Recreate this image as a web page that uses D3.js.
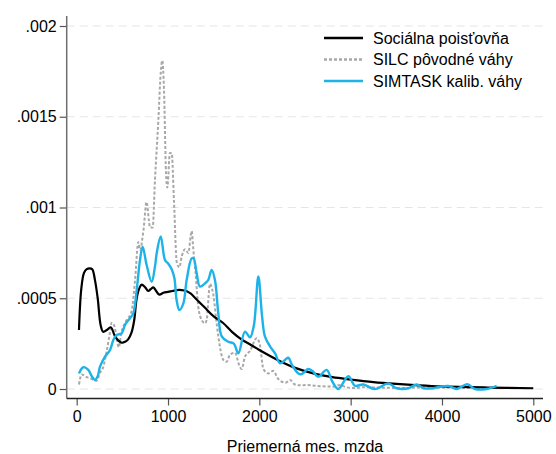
<!DOCTYPE html>
<html><head><meta charset="utf-8">
<script src="https://cdn.jsdelivr.net/npm/d3@7"></script>
<style>body{margin:0;background:#fff}svg{display:block}</style>
</head><body>
<script>
// ---- data (y in units of 1e-4 density) ----
const xTicks = [0, 1000, 2000, 3000, 4000, 5000];
const yTicks = [0, 0.0005, 0.001, 0.0015, 0.002];
const yTickLabels = ["0", ".0005", ".001", ".0015", ".002"];
const seriesNames = ["Sociálna poisťovňa", "SILC pôvodné váhy", "SIMTASK kalib. váhy"];

const spX = [25,50,80,110,140,170,200,230,263,290,330,372,420,460,493,530,565,600,630,657,690,712,750,784,810,839,870,905,950,1000,1050,1100,1150,1200,1250,1300,1400,1500,1600,1700,1800,1900,2000,2200,2400,2600,2800,3000,3250,3500,3750,4000,4500,5000];
const spY = [3.25,5.5,6.4,6.6,6.65,6.6,6.0,5.0,3.5,3.15,3.25,3.4,2.9,2.65,2.55,2.6,2.75,3.1,3.8,5.0,5.6,5.75,5.6,5.4,5.5,5.6,5.4,5.2,5.3,5.35,5.4,5.45,5.45,5.4,5.25,5.0,4.5,4.0,3.65,3.15,2.75,2.45,2.15,1.6,1.15,0.85,0.65,0.52,0.38,0.28,0.2,0.14,0.08,0.04];

const silcX = [25,55,80,110,146,180,219,255,290,329,360,383,410,438,460,493,511,547,602,639,675,693,730,766,790,803,832,857,894,920,937,956,978,992,1021,1040,1065,1095,1124,1150,1186,1222,1259,1277,1300,1332,1369,1405,1423,1460,1478,1496,1533,1551,1606,1642,1679,1733,1780,1806,1843,1898,1971,2007,2044,2098,2153,2200,2245,2290,2336,2390,2450,2518,2628,2700,2810,2883,2950,3029,3150,3300,3450,3600,3750,3900,4050,4200,4350,4500,4600];
const silcY = [0.25,0.8,0.75,0.65,0.6,0.5,0.45,0.9,1.2,2.1,3.0,3.65,3.5,2.8,2.3,3.2,3.45,3.8,4.3,6.0,8.1,7.66,8.7,10.3,9.3,8.9,8.9,11.5,14.8,17.4,18.1,16.5,11.9,11.1,13.0,13.0,10.4,7.0,6.7,7.3,7.7,7.5,8.7,7.7,6.5,4.5,3.8,3.62,3.8,5.8,5.6,5.2,3.6,2.9,1.6,1.5,1.9,2.0,1.3,1.1,1.78,2.1,2.8,2.4,1.1,0.86,1.0,0.6,0.4,0.35,0.5,0.25,0.2,0.22,0.17,0.15,0.13,0.22,0.1,0.05,0.1,0.08,0.06,0.05,0.08,0.05,0.08,0.05,0.06,0.05,0.05];

const simX = [25,72,127,165,200,230,255,310,365,401,438,493,529,584,620,657,693,722,766,821,857,876,920,967,1003,1040,1070,1094,1124,1168,1204,1259,1280,1314,1350,1405,1440,1478,1514,1550,1588,1660,1720,1770,1843,1898,1940,1989,2030,2062,2117,2171,2226,2281,2317,2360,2427,2463,2536,2580,2646,2737,2800,2865,2974,3047,3138,3266,3412,3504,3631,3723,3800,3905,3978,4069,4161,4277,4361,4489,4599];
const simY = [0.86,1.2,1.05,0.7,0.5,0.7,1.23,1.78,2.15,2.7,2.98,3.07,3.53,3.9,4.17,5.45,7.1,7.84,6.83,5.91,6.74,7.48,8.4,7.1,6.9,6.6,6.1,4.9,4.35,4.72,6.0,7.2,7.2,6.37,5.64,5.82,6.0,6.56,6.0,4.2,2.9,2.6,2.5,1.97,3.16,2.85,3.5,6.2,4.0,2.88,2.35,1.97,1.42,1.6,1.72,1.3,0.86,0.82,1.1,1.0,0.68,1.05,0.4,0.0,0.7,0.18,0.25,0.0,0.3,0.04,0.04,0.25,0.04,0.04,0.13,0.17,0.0,0.26,0.0,0.0,0.17];

const W = 556, H = 454;
const FONT = "'Liberation Sans', Arial, Helvetica, sans-serif";
const svg = d3.select("body").append("svg").attr("width", W).attr("height", H)
  .style("font-family", FONT);

const x = d3.scaleLinear().domain([0, 5000]).range([76.7, 533.3]);
const y = d3.scaleLinear().domain([0, 0.002]).range([389, 26]);
const axisX = 66.7, axisY = 398.5, plotRight = 543, plotTop = 16;

// gridlines
svg.append("g").selectAll("line").data(yTicks).join("line")
  .attr("x1", axisX).attr("x2", plotRight)
  .attr("y1", d => y(d)).attr("y2", d => y(d))
  .attr("stroke", "#e6e6e6").attr("stroke-width", 1.2).attr("stroke-dasharray", "8,5");

// axes
const yAxis = d3.axisLeft(y).tickValues(yTicks).tickFormat((d, i) => yTickLabels[i]).tickSize(7).tickPadding(3);
const gy = svg.append("g").attr("transform", `translate(${axisX},0)`).call(yAxis);
gy.select(".domain").remove();
svg.append("line").attr("x1", axisX).attr("x2", axisX).attr("y1", plotTop).attr("y2", axisY)
  .attr("stroke", "#6e6e6e").attr("stroke-width", 1.5);

const xAxis = d3.axisBottom(x).tickValues(xTicks).tickFormat(d3.format("d")).tickSize(7).tickPadding(5);
const gx = svg.append("g").attr("transform", `translate(0,${axisY})`).call(xAxis);
gx.select(".domain").remove();
svg.append("line").attr("x1", axisX).attr("x2", plotRight).attr("y1", axisY).attr("y2", axisY)
  .attr("stroke", "#222").attr("stroke-width", 1.4);

[gx, gy].forEach(g => {
  g.selectAll(".tick line").attr("stroke", "#555").attr("stroke-width", 1.2);
  g.selectAll(".tick text").attr("fill", "#000").style("font-size", "16px")
   .style("font-family", FONT);
});

svg.append("text").attr("x", 305).attr("y", 452).attr("text-anchor", "middle")
  .style("font-size", "16px").text("Priemerná mes. mzda");

// lines
const zip = (a, b) => a.map((v, i) => [v, b[i]]);
const smooth = d3.line().x(d => x(d[0])).y(d => y(d[1] * 1e-4)).curve(d3.curveCatmullRom.alpha(0.5));
const jag = d3.line().x(d => x(d[0])).y(d => y(d[1] * 1e-4)).curve(d3.curveMonotoneX);

svg.append("path").datum(zip(silcX, silcY)).attr("d", jag)
  .attr("fill", "none").attr("stroke", "#a8a8a8").attr("stroke-width", 2).attr("stroke-dasharray", "3,2");
svg.append("path").datum(zip(spX, spY)).attr("d", smooth)
  .attr("fill", "none").attr("stroke", "#000").attr("stroke-width", 2.2);
svg.append("path").datum(zip(simX, simY)).attr("d", smooth)
  .attr("fill", "none").attr("stroke", "#1db3e8").attr("stroke-width", 2.4);

// legend
const legStyles = [
  {stroke: "#000", dash: null, w: 2.6},
  {stroke: "#a8a8a8", dash: "3,2", w: 2.6},
  {stroke: "#1db3e8", dash: null, w: 2.6}
];
const legRows = [38, 59.5, 81];
const leg = svg.append("g");
seriesNames.forEach((name, i) => {
  leg.append("line").attr("x1", 324).attr("x2", 363).attr("y1", legRows[i]).attr("y2", legRows[i])
    .attr("stroke", legStyles[i].stroke).attr("stroke-width", legStyles[i].w)
    .attr("stroke-dasharray", legStyles[i].dash);
  leg.append("text").attr("x", 373).attr("y", legRows[i]).attr("dy", "0.35em")
    .style("font-size", "16px").text(name);
});
</script>
</body></html>
